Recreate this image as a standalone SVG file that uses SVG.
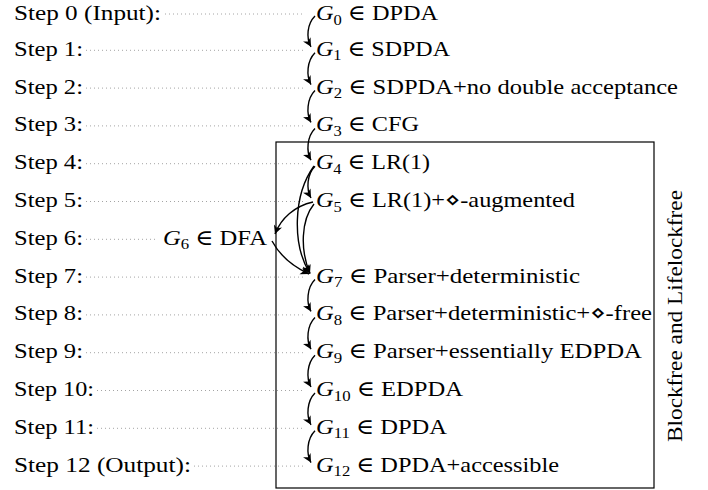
<svg xmlns="http://www.w3.org/2000/svg" width="708" height="490" viewBox="0 0 708 490">
<style>
text{font-family:"Liberation Serif","DejaVu Serif",serif;font-size:22px;fill:#000}
.i{font-style:italic}
.s{font-size:15px}
.dot{stroke:#999;stroke-width:1;stroke-dasharray:0.9 3.1;fill:none}
.arr{stroke:#000;stroke-width:1.4;fill:none;marker-end:url(#ah)}
</style>
<defs>
<marker id="ah" markerWidth="11" markerHeight="11" refX="9" refY="5.5" orient="auto" markerUnits="userSpaceOnUse">
<path d="M0.5,1.2 L9,5.5 L0.5,9.8 L2.8,5.5 Z" fill="#000"/>
</marker>
</defs>
<rect x="276" y="142" width="378" height="346" fill="none" stroke="#000" stroke-width="1.2"/>
<text transform="translate(682,316) rotate(-90)" text-anchor="middle" textLength="252" lengthAdjust="spacingAndGlyphs">Blockfree and Lifelockfree</text>
<g id="guides">
<line class="dot" x1="165" y1="14" x2="303" y2="14"/>
<line class="dot" x1="86" y1="50.3" x2="303" y2="50.3"/>
<line class="dot" x1="86" y1="88.1" x2="303" y2="88.1"/>
<line class="dot" x1="86" y1="125.9" x2="303" y2="125.9"/>
<line class="dot" x1="86" y1="163.7" x2="303" y2="163.7"/>
<line class="dot" x1="86" y1="201.5" x2="303" y2="201.5"/>
<line class="dot" x1="86" y1="239.3" x2="157" y2="239.3"/>
<line class="dot" x1="86" y1="277.1" x2="303" y2="277.1"/>
<line class="dot" x1="86" y1="314.9" x2="303" y2="314.9"/>
<line class="dot" x1="86" y1="352.7" x2="303" y2="352.7"/>
<line class="dot" x1="97" y1="390.5" x2="303" y2="390.5"/>
<line class="dot" x1="97" y1="428.3" x2="303" y2="428.3"/>
<line class="dot" x1="194" y1="466.1" x2="303" y2="466.1"/>
</g>
<g id="steps">
<g id="step0"><text x="14" y="20" textLength="147" lengthAdjust="spacingAndGlyphs">Step 0 (Input):</text></g>
<g id="step1"><text x="14" y="55.8" textLength="69" lengthAdjust="spacingAndGlyphs">Step 1:</text></g>
<g id="step2"><text x="14" y="93.6" textLength="69" lengthAdjust="spacingAndGlyphs">Step 2:</text></g>
<g id="step3"><text x="14" y="131.4" textLength="69" lengthAdjust="spacingAndGlyphs">Step 3:</text></g>
<g id="step4"><text x="14" y="169.2" textLength="69" lengthAdjust="spacingAndGlyphs">Step 4:</text></g>
<g id="step5"><text x="14" y="207" textLength="69" lengthAdjust="spacingAndGlyphs">Step 5:</text></g>
<g id="step6"><text x="14" y="244.8" textLength="69" lengthAdjust="spacingAndGlyphs">Step 6:</text></g>
<g id="step7"><text x="14" y="282.6" textLength="69" lengthAdjust="spacingAndGlyphs">Step 7:</text></g>
<g id="step8"><text x="14" y="320.4" textLength="69" lengthAdjust="spacingAndGlyphs">Step 8:</text></g>
<g id="step9"><text x="14" y="358.2" textLength="69" lengthAdjust="spacingAndGlyphs">Step 9:</text></g>
<g id="step10"><text x="14" y="396" textLength="80" lengthAdjust="spacingAndGlyphs">Step 10:</text></g>
<g id="step11"><text x="14" y="433.8" textLength="80" lengthAdjust="spacingAndGlyphs">Step 11:</text></g>
<g id="step12"><text x="14" y="471.6" textLength="177" lengthAdjust="spacingAndGlyphs">Step 12 (Output):</text></g>
</g>
<g id="G0"><text x="316" y="20" textLength="122" lengthAdjust="spacingAndGlyphs"><tspan class="i">G</tspan><tspan class="s" dy="4.5">0</tspan><tspan dy="-4.5"> ∈ DPDA</tspan></text></g>
<g id="G1"><text x="316" y="55.8" textLength="134" lengthAdjust="spacingAndGlyphs"><tspan class="i">G</tspan><tspan class="s" dy="4.5">1</tspan><tspan dy="-4.5"> ∈ SDPDA</tspan></text></g>
<g id="G2"><text x="316" y="93.6" textLength="362" lengthAdjust="spacingAndGlyphs"><tspan class="i">G</tspan><tspan class="s" dy="4.5">2</tspan><tspan dy="-4.5"> ∈ SDPDA+no double acceptance</tspan></text></g>
<g id="G3"><text x="316" y="131.4" textLength="103" lengthAdjust="spacingAndGlyphs"><tspan class="i">G</tspan><tspan class="s" dy="4.5">3</tspan><tspan dy="-4.5"> ∈ CFG</tspan></text></g>
<g id="G4"><text x="316" y="169.2" textLength="114" lengthAdjust="spacingAndGlyphs"><tspan class="i">G</tspan><tspan class="s" dy="4.5">4</tspan><tspan dy="-4.5"> ∈ LR(1)</tspan></text></g>
<g id="G5"><text x="316" y="207" textLength="259" lengthAdjust="spacingAndGlyphs"><tspan class="i">G</tspan><tspan class="s" dy="4.5">5</tspan><tspan dy="-4.5"> ∈ LR(1)+⋄-augmented</tspan></text></g>
<g id="G6"><text x="163" y="244.8" textLength="104" lengthAdjust="spacingAndGlyphs"><tspan class="i">G</tspan><tspan class="s" dy="4.5">6</tspan><tspan dy="-4.5"> ∈ DFA</tspan></text></g>
<g id="G7"><text x="316" y="282.6" textLength="264" lengthAdjust="spacingAndGlyphs"><tspan class="i">G</tspan><tspan class="s" dy="4.5">7</tspan><tspan dy="-4.5"> ∈ Parser+deterministic</tspan></text></g>
<g id="G8"><text x="316" y="320.4" textLength="336" lengthAdjust="spacingAndGlyphs"><tspan class="i">G</tspan><tspan class="s" dy="4.5">8</tspan><tspan dy="-4.5"> ∈ Parser+deterministic+⋄-free</tspan></text></g>
<g id="G9"><text x="316" y="358.2" textLength="326" lengthAdjust="spacingAndGlyphs"><tspan class="i">G</tspan><tspan class="s" dy="4.5">9</tspan><tspan dy="-4.5"> ∈ Parser+essentially EDPDA</tspan></text></g>
<g id="G10"><text x="316" y="396" textLength="147" lengthAdjust="spacingAndGlyphs"><tspan class="i">G</tspan><tspan class="s" dy="4.5">10</tspan><tspan dy="-4.5"> ∈ EDPDA</tspan></text></g>
<g id="G11"><text x="316" y="433.8" textLength="131" lengthAdjust="spacingAndGlyphs"><tspan class="i">G</tspan><tspan class="s" dy="4.5">11</tspan><tspan dy="-4.5"> ∈ DPDA</tspan></text></g>
<g id="G12"><text x="316" y="471.6" textLength="243" lengthAdjust="spacingAndGlyphs"><tspan class="i">G</tspan><tspan class="s" dy="4.5">12</tspan><tspan dy="-4.5"> ∈ DPDA+accessible</tspan></text></g>
<g id="connectors">
<path class="arr" d="M315,16 C307,24 306,38 311,46.8"/>
<path class="arr" d="M315,52.8 C307,60.8 306,75.8 311,84.6"/>
<path class="arr" d="M315,90.6 C307,98.6 306,113.6 311,122.4"/>
<path class="arr" d="M315,128.4 C307,136.4 306,151.4 311,160.2"/>
<path class="arr" d="M315,166.2 C307,174.2 306,189.2 311,198"/>
<path class="arr" d="M314,166 C293,195 292,245 310,273.6"/>
<path class="arr" d="M314,204 C301,220 300,250 310,273.6"/>
<path class="arr" d="M313,202 C295,206 281,218 275,234"/>
<path class="arr" d="M272,241 C280,256 292,266 309,274"/>
<path class="arr" d="M315,279.6 C307,287.6 306,302.6 311,311.4"/>
<path class="arr" d="M315,317.4 C307,325.4 306,340.4 311,349.2"/>
<path class="arr" d="M315,355.2 C307,363.2 306,378.2 311,387"/>
<path class="arr" d="M315,393 C307,401 306,416 311,424.8"/>
<path class="arr" d="M315,430.8 C307,438.8 306,453.8 311,462.6"/>
</g>
</svg>
